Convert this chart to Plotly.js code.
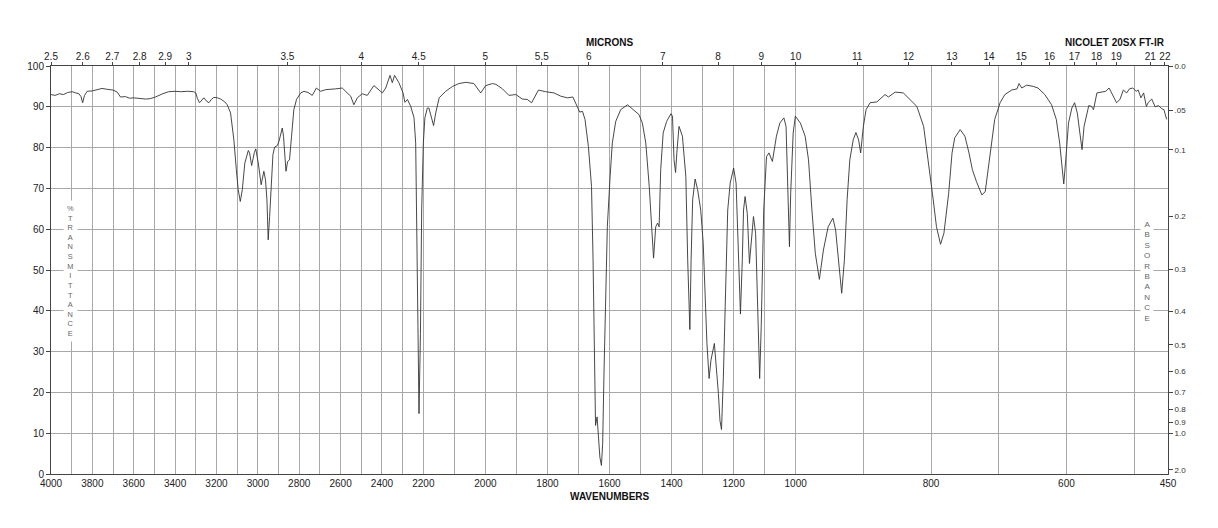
<!DOCTYPE html>
<html>
<head>
<meta charset="utf-8">
<script src="https://cdn.plot.ly/plotly-3.0.1.min.js"></script>
<style>
  html, body { margin: 0; padding: 0; background: #fff; }
  #chart { width: 1218px; height: 528px; }
</style>
</head>
<body>
<div id="chart"></div>
<script>
// ---- Spectrum data (wavenumber in cm-1, % transmittance) ----
const wavenumbers = [
4000,3980,3960,3940,3920,3898,3880,3865,3855,3847,3838,3825,3800,3775,3753,3730,3700,3680,3664,3640,3620,3600,3570,3543,3520,3495,3460,3431,3400,3374,3340,3310,3300,3292,3282,3270,3261,3250,3237,3225,3213,3195,3180,3160,3148,3132,3116,3104,3095,3085,3075,3063,3046,3040,3030,3017,3010,2998,2984,2971,2963,2956,2950,2943,2935,2927,2919,2906,2898,2889,2882,2876,2869,2864,2856,2847,2837,2826,2813,2793,2777,2757,2737,2717,2697,2672,2624,2592,2576,2551,2536,2519,2495,2471,2439,2422,2398,2382,2361,2350,2339,2318,2298,2289,2277,2261,2245,2237,2232,2226,2221,2214,2208,2200,2195,2187,2182,2173,2167,2160,2149,2128,2106,2085,2063,2037,2022,2015,1999,1977,1966,1945,1924,1902,1881,1865,1851,1829,1806,1779,1757,1736,1718,1709,1696,1687,1679,1668,1658,1653,1650,1647,1645,1640,1636,1631,1626,1622,1618,1612,1607,1598,1591,1580,1564,1542,1526,1505,1494,1483,1472,1465,1458,1451,1445,1440,1435,1427,1416,1402,1397,1392,1387,1383,1376,1365,1354,1348,1341,1337,1332,1324,1316,1306,1298,1292,1286,1279,1273,1262,1257,1249,1244,1239,1233,1226,1219,1211,1200,1192,1185,1178,1172,1168,1163,1156,1149,1142,1136,1129,1121,1116,1111,1103,1094,1086,1075,1062,1051,1038,1031,1024,1020,1016,1008,1001,993,986,981,976,971,965,959,952,945,941,937,932,928,924,920,915,911,907,904,900,896,890,880,873,868,863,853,841,831,821,811,804,798,792,786,781,774,769,765,757,750,744,739,733,725,720,716,711,706,698,691,681,673,670,666,659,649,642,632,622,615,610,606,604,601,597,592,588,584,580,577,574,570,567,563,560,555,548,542,537,532,526,521,516,511,507,502,497,494,490,486,482,479,474,469,464,459,456,452
];
const transmittance = [
93.0,92.8,93.2,93.0,93.5,93.7,93.4,93.2,92.5,91.0,92.8,93.8,93.9,94.3,94.5,94.3,94.1,93.6,92.4,92.5,92.1,92.2,92.0,91.9,92.0,92.4,93.2,93.7,93.8,93.7,93.8,93.7,93.4,92.0,91.0,91.8,92.2,91.5,91.0,91.8,92.3,92.2,91.9,91.2,90.5,88.5,81.9,74.6,69.7,66.8,69.7,76.2,79.3,78.7,75.6,78.8,79.7,76.2,70.9,74.2,72.1,67.2,57.4,63.1,72.9,78.3,80.1,80.5,81.5,83.7,84.8,82.8,77.0,74.2,76.6,77.0,82.8,89.3,91.8,93.4,93.8,93.5,92.8,94.6,93.8,94.2,94.4,94.6,93.8,92.6,90.5,92.2,93.2,92.8,95.2,94.4,93.4,94.6,97.7,95.9,97.7,95.9,93.4,91.1,91.8,90.1,87.3,81.1,64.7,36.1,14.8,34.4,64.7,81.1,87.3,89.7,89.7,87.3,85.4,88.5,92.2,93.8,95.0,95.7,96.0,95.7,94.2,93.4,95.2,95.7,95.5,94.4,92.8,93.0,91.9,91.8,91.0,94.1,93.7,93.4,92.6,92.2,92.4,91.0,88.7,88.9,86.9,80.3,70.5,52.5,32.0,15.6,11.9,14.0,9.0,4.1,2.1,7.4,23.8,44.3,60.6,72.9,81.1,86.4,89.3,90.5,89.5,88.1,86.0,81.1,70.5,60.6,52.9,60.6,61.5,60.6,74.6,83.6,86.4,88.3,87.7,77.0,73.9,78.7,85.2,82.8,72.9,52.5,35.4,52.5,67.2,72.3,69.7,64.7,56.6,44.3,32.0,23.4,27.9,32.0,27.9,19.7,13.1,10.9,23.8,48.4,64.7,71.3,75.0,71.3,56.6,39.2,52.5,64.7,68.0,63.9,51.6,59.0,63.1,59.0,39.4,23.4,36.1,64.7,77.8,78.7,76.6,82.8,86.0,87.3,85.2,64.7,55.7,68.8,83.6,87.7,86.0,82.8,77.0,64.7,54.1,47.7,54.9,60.6,62.7,59.8,52.5,44.3,52.5,67.2,77.0,81.9,83.7,81.9,78.7,85.2,89.3,91.0,91.2,92.2,93.0,92.4,93.6,93.4,91.8,90.1,85.2,77.0,68.8,60.6,56.3,59.0,68.8,78.7,82.4,84.4,82.8,78.7,74.6,71.7,68.4,69.2,74.6,81.1,86.9,91.0,93.0,94.1,94.4,95.7,94.6,95.3,95.0,94.6,93.0,90.5,86.9,81.1,73.8,71.1,77.0,86.0,89.7,91.0,88.5,83.6,79.5,85.2,88.5,90.3,90.1,89.3,93.4,93.7,93.8,94.6,92.8,91.0,91.8,94.1,93.4,94.4,94.6,93.8,94.1,92.2,93.4,90.1,91.1,91.9,90.0,90.3,89.5,89.3,86.9
];

// ---- Tick labels ----
const micronTicks = [2.5,2.6,2.7,2.8,2.9,3,3.5,4,4.5,5,5.5,6,7,8,9,10,11,12,13,14,15,16,17,18,19,21,22];
const absorbanceTicks = [0.0,0.05,0.1,0.2,0.3,0.4,0.5,0.6,0.7,0.8,0.9,1.0,2.0];
const absorbanceLabels = ['0.0','.05','0.1','0.2','0.3','0.4','0.5','0.6','0.7','0.8','0.9','1.0','2.0'];
const transmittanceTicks = [0,10,20,30,40,50,60,70,80,90,100];

// Chart is three equal-width panels: 4000-2200, 2200-1000, 1000-450 cm-1
function warp(wn) {
  if (wn >= 2200) return (4000 - wn) / 1800;
  if (wn >= 1000) return 1 + (2200 - wn) / 1200;
  return 2 + (1000 - wn) / 550;
}

// gridlines every 100 cm-1, labels at every 200 plus the 450 end
const gridWn = [];
for (let w = 4000; w >= 500; w -= 100) gridWn.push(w);
gridWn.push(450);
const gridText = gridWn.map(w => (w % 200 === 0 || w === 450) ? String(w) : '');

const FONT = 'Liberation Sans, Arial, Helvetica, sans-serif';
const GRID = '#a8a8a8';
const AXIS = '#444';

const traces = [
  {
    x: wavenumbers.map(warp),
    y: transmittance,
    type: 'scatter',
    mode: 'lines',
    line: { color: '#333', width: 0.9 },
    hoverinfo: 'skip',
    xaxis: 'x', yaxis: 'y'
  },
  {
    x: [0, 3], y: [0, 100],
    type: 'scatter', mode: 'markers',
    marker: { opacity: 0 },
    hoverinfo: 'skip',
    xaxis: 'x2', yaxis: 'y2'
  }
];

const layout = {
  width: 1218, height: 528,
  margin: { l: 51, r: 50, t: 66, b: 54 },
  paper_bgcolor: '#fff', plot_bgcolor: '#fff',
  showlegend: false,
  font: { family: FONT, size: 10, color: '#222' },
  xaxis: {
    range: [0, 3], tickmode: 'array',
    tickvals: gridWn.map(warp), ticktext: gridText,
    showgrid: true, gridcolor: GRID, gridwidth: 1,
    zeroline: false, showline: true, linecolor: AXIS, linewidth: 1,
    ticks: '', tickfont: { family: FONT, size: 10, color: '#222' }
  },
  xaxis2: {
    overlaying: 'x', side: 'top', anchor: 'y',
    range: [0, 3], tickmode: 'array',
    tickvals: micronTicks.map(m => warp(10000 / m)),
    ticktext: micronTicks.map(String),
    showgrid: false, zeroline: false, showline: true, linecolor: AXIS, linewidth: 1,
    ticks: 'outside', ticklen: 3, tickcolor: AXIS,
    ticklabelstandoff: -2,
    tickfont: { family: FONT, size: 10, color: '#222' }
  },
  yaxis: {
    range: [0, 100], tickmode: 'array', tickvals: transmittanceTicks,
    showgrid: true, gridcolor: GRID, gridwidth: 1,
    zeroline: false, showline: true, linecolor: AXIS, linewidth: 1,
    ticks: 'outside', ticklen: 4, tickcolor: AXIS,
    tickfont: { family: FONT, size: 10, color: '#222' }
  },
  yaxis2: {
    overlaying: 'y', side: 'right', anchor: 'x',
    range: [0, 100], tickmode: 'array',
    tickvals: absorbanceTicks.map(a => 100 * Math.pow(10, -a)),
    ticktext: absorbanceLabels,
    showgrid: false, zeroline: false, showline: true, linecolor: AXIS, linewidth: 1,
    ticks: 'outside', ticklen: 4, tickcolor: AXIS,
    tickfont: { family: FONT, size: 8, color: '#333' }
  },
  annotations: [
    { text: '<b>MICRONS</b>', xref: 'paper', yref: 'paper', x: 0.5, y: 1.058,
      xanchor: 'center', yanchor: 'middle', showarrow: false,
      font: { family: FONT, size: 10, color: '#111' } },
    { text: '<b>NICOLET 20SX FT-IR</b>', xref: 'paper', yref: 'paper', x: 0.9526, y: 1.058,
      xanchor: 'center', yanchor: 'middle', showarrow: false,
      font: { family: FONT, size: 10, color: '#111' } },
    { text: '<b>WAVENUMBERS</b>', xref: 'paper', yref: 'paper', x: 0.5, y: -0.056,
      xanchor: 'center', yanchor: 'middle', showarrow: false,
      font: { family: FONT, size: 10, color: '#111' } },
    { text: '%TRANSMITTANCE'.split('').join('<br>'), xref: 'paper', yref: 'paper',
      x: 0.0179, y: 0.4975, xanchor: 'center', yanchor: 'middle', showarrow: false,
      bgcolor: '#fff', borderpad: 3,
      font: { family: FONT, size: 7.4, color: '#666' } },
    { text: 'ABSORBANCE'.split('').join('<br>'), xref: 'paper', yref: 'paper',
      x: 0.981, y: 0.4975, xanchor: 'center', yanchor: 'middle', showarrow: false,
      bgcolor: '#fff', borderpad: 3,
      font: { family: FONT, size: 8, color: '#666' } }
  ]
};

Plotly.newPlot('chart', traces, layout, { staticPlot: true, displayModeBar: false });
</script>
</body>
</html>
